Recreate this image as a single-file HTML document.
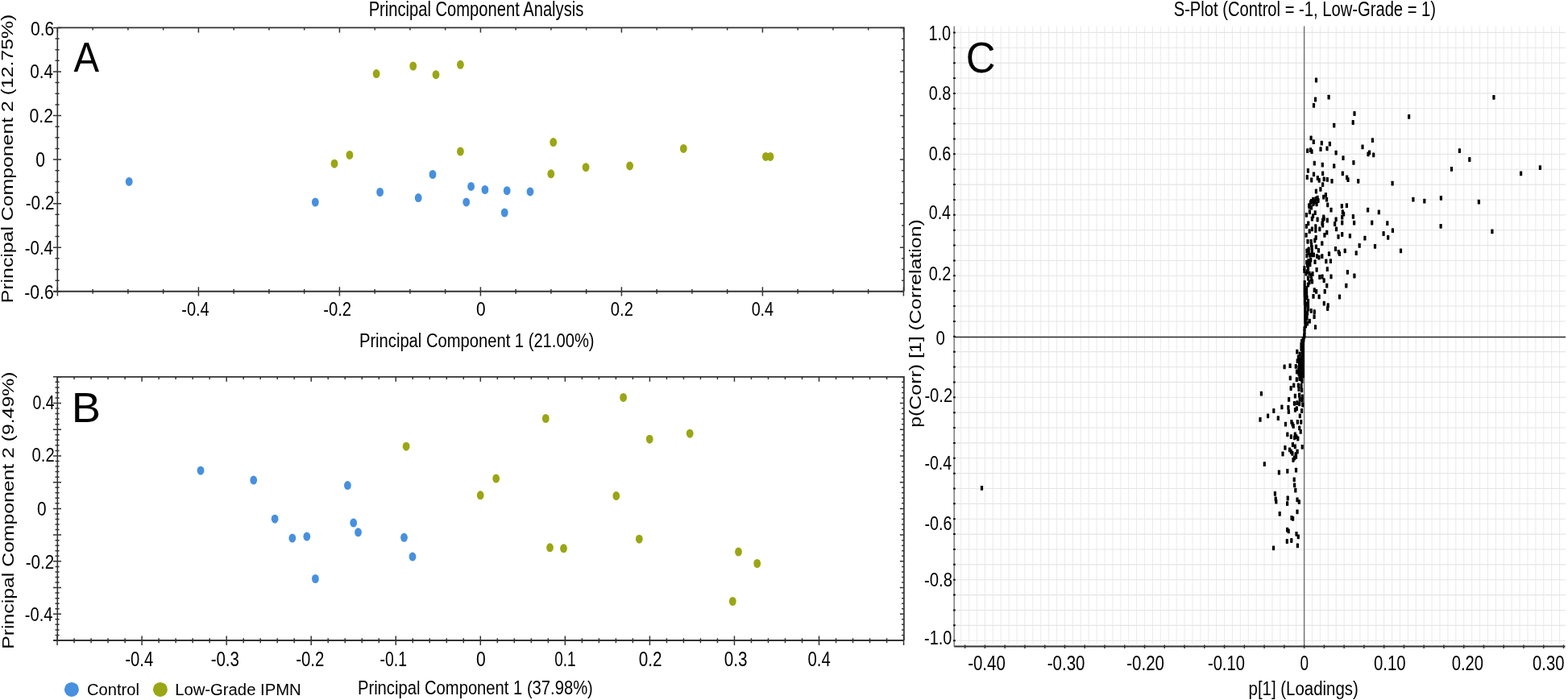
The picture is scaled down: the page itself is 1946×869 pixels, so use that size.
<!DOCTYPE html>
<html><head><meta charset="utf-8"><title>PCA and S-Plot</title>
<style>html,body{margin:0;padding:0;background:#fff;}body{width:1946px;height:869px;overflow:hidden;}svg{display:block;}text{font-family:"Liberation Sans",Arial,sans-serif;}</style>
</head><body>
<svg width="1946" height="869" viewBox="0 0 1946 869" font-family="Liberation Sans, Arial, sans-serif">
<path d="M71.3 34.4H1121.9V361.8" stroke="#333" stroke-width="1.7" fill="none"/>
<path d="M71.3 34.4V361.8" stroke="#333" stroke-width="1.6" fill="none"/>
<path d="M66.3 361.8H1121.9" stroke="#333" stroke-width="2" fill="none"/>
<path d="M66.0 361.78H76.0 M1116.9 361.78H1121.9 M68.5 348.14H73.6 M1119.1 348.14H1121.9 M68.5 334.50H73.6 M1119.1 334.50H1121.9 M68.5 320.86H73.6 M1119.1 320.86H1121.9 M66.0 307.22H76.0 M1116.9 307.22H1121.9 M68.5 293.58H73.6 M1119.1 293.58H1121.9 M68.5 279.94H73.6 M1119.1 279.94H1121.9 M68.5 266.30H73.6 M1119.1 266.30H1121.9 M66.0 252.66H76.0 M1116.9 252.66H1121.9 M68.5 239.02H73.6 M1119.1 239.02H1121.9 M68.5 225.38H73.6 M1119.1 225.38H1121.9 M68.5 211.74H73.6 M1119.1 211.74H1121.9 M66.0 198.10H76.0 M1116.9 198.10H1121.9 M68.5 184.46H73.6 M1119.1 184.46H1121.9 M68.5 170.82H73.6 M1119.1 170.82H1121.9 M68.5 157.18H73.6 M1119.1 157.18H1121.9 M66.0 143.54H76.0 M1116.9 143.54H1121.9 M68.5 129.90H73.6 M1119.1 129.90H1121.9 M68.5 116.26H73.6 M1119.1 116.26H1121.9 M68.5 102.62H73.6 M1119.1 102.62H1121.9 M66.0 88.98H76.0 M1116.9 88.98H1121.9 M68.5 75.34H73.6 M1119.1 75.34H1121.9 M68.5 61.70H73.6 M1119.1 61.70H1121.9 M68.5 48.06H73.6 M1119.1 48.06H1121.9 M66.0 34.42H76.0 M1116.9 34.42H1121.9 M71.40 356.3V367.6 M71.40 34.4V40.4 M115.15 359.0V364.7 M115.15 34.4V37.6 M158.90 359.0V364.7 M158.90 34.4V37.6 M202.65 359.0V364.7 M202.65 34.4V37.6 M246.40 356.3V367.6 M246.40 34.4V40.4 M290.15 359.0V364.7 M290.15 34.4V37.6 M333.90 359.0V364.7 M333.90 34.4V37.6 M377.65 359.0V364.7 M377.65 34.4V37.6 M421.40 356.3V367.6 M421.40 34.4V40.4 M465.15 359.0V364.7 M465.15 34.4V37.6 M508.90 359.0V364.7 M508.90 34.4V37.6 M552.65 359.0V364.7 M552.65 34.4V37.6 M596.40 356.3V367.6 M596.40 34.4V40.4 M640.15 359.0V364.7 M640.15 34.4V37.6 M683.90 359.0V364.7 M683.90 34.4V37.6 M727.65 359.0V364.7 M727.65 34.4V37.6 M771.40 356.3V367.6 M771.40 34.4V40.4 M815.15 359.0V364.7 M815.15 34.4V37.6 M858.90 359.0V364.7 M858.90 34.4V37.6 M902.65 359.0V364.7 M902.65 34.4V37.6 M946.40 356.3V367.6 M946.40 34.4V40.4 M990.15 359.0V364.7 M990.15 34.4V37.6 M1033.90 359.0V364.7 M1033.90 34.4V37.6 M1077.65 359.0V364.7 M1077.65 34.4V37.6 M1121.40 356.3V367.6 M1121.40 34.4V40.4" stroke="#333" stroke-width="1.5" fill="none"/>
<text x="37.98" y="43.75" font-size="24.58" textLength="29.33" lengthAdjust="spacingAndGlyphs" fill="#000">0.6</text>
<text x="37.19" y="96.97" font-size="23.45" textLength="28.71" lengthAdjust="spacingAndGlyphs" fill="#000">0.4</text>
<text x="36.47" y="151.75" font-size="24.72" textLength="29.49" lengthAdjust="spacingAndGlyphs" fill="#000">0.2</text>
<text x="44.18" y="206.65" font-size="25.00" textLength="11.73" lengthAdjust="spacingAndGlyphs" fill="#000">0</text>
<text x="31.69" y="259.56" font-size="24.44" textLength="35.75" lengthAdjust="spacingAndGlyphs" fill="#000">-0.2</text>
<text x="30.80" y="315.55" font-size="24.58" textLength="35.09" lengthAdjust="spacingAndGlyphs" fill="#000">-0.4</text>
<text x="30.17" y="370.56" font-size="24.44" textLength="36.55" lengthAdjust="spacingAndGlyphs" fill="#000">-0.6</text>
<text x="225.22" y="392.16" font-size="24.44" textLength="34.46" lengthAdjust="spacingAndGlyphs" fill="#000">-0.4</text>
<text x="401.21" y="392.16" font-size="24.44" textLength="34.91" lengthAdjust="spacingAndGlyphs" fill="#000">-0.2</text>
<text x="590.99" y="392.16" font-size="24.44" textLength="11.61" lengthAdjust="spacingAndGlyphs" fill="#000">0</text>
<text x="757.81" y="392.16" font-size="24.44" textLength="28.10" lengthAdjust="spacingAndGlyphs" fill="#000">0.2</text>
<text x="932.63" y="392.16" font-size="24.44" textLength="27.45" lengthAdjust="spacingAndGlyphs" fill="#000">0.4</text>
<text x="457.65" y="19.70" font-size="25.29" textLength="266.68" lengthAdjust="spacingAndGlyphs" fill="#000">Principal Component Analysis</text>
<text x="445.95" y="431.40" font-size="23.98" textLength="291.61" lengthAdjust="spacingAndGlyphs" fill="#000">Principal Component 1 (21.00%)</text>
<text transform="translate(16.40,376.23) rotate(-90)" x="0" y="0" font-size="20.64" textLength="358.58" lengthAdjust="spacingAndGlyphs" fill="#000">Principal Component 2 (12.75%)</text>
<text x="91.41" y="88.80" font-size="51.74" textLength="31.59" lengthAdjust="spacingAndGlyphs" fill="#000">A</text>
<ellipse cx="160.2" cy="225.4" rx="4.4" ry="5.5" fill="#4790de"/><ellipse cx="391.3" cy="251.0" rx="4.4" ry="5.5" fill="#4790de"/><ellipse cx="471.6" cy="238.5" rx="4.4" ry="5.5" fill="#4790de"/><ellipse cx="519.2" cy="245.6" rx="4.4" ry="5.5" fill="#4790de"/><ellipse cx="537.0" cy="216.5" rx="4.4" ry="5.5" fill="#4790de"/><ellipse cx="578.7" cy="250.9" rx="4.4" ry="5.5" fill="#4790de"/><ellipse cx="584.6" cy="231.4" rx="4.4" ry="5.5" fill="#4790de"/><ellipse cx="601.9" cy="235.5" rx="4.4" ry="5.5" fill="#4790de"/><ellipse cx="626.2" cy="264.0" rx="4.4" ry="5.5" fill="#4790de"/><ellipse cx="629.2" cy="236.7" rx="4.4" ry="5.5" fill="#4790de"/><ellipse cx="658.0" cy="237.9" rx="4.4" ry="5.5" fill="#4790de"/>
<ellipse cx="415.0" cy="203.2" rx="4.4" ry="5.5" fill="#9aa614"/><ellipse cx="433.9" cy="192.4" rx="4.4" ry="5.5" fill="#9aa614"/><ellipse cx="467.1" cy="91.6" rx="4.4" ry="5.5" fill="#9aa614"/><ellipse cx="512.7" cy="82.0" rx="4.4" ry="5.5" fill="#9aa614"/><ellipse cx="541.0" cy="92.7" rx="4.4" ry="5.5" fill="#9aa614"/><ellipse cx="571.4" cy="80.3" rx="4.4" ry="5.5" fill="#9aa614"/><ellipse cx="571.4" cy="188.1" rx="4.4" ry="5.5" fill="#9aa614"/><ellipse cx="683.8" cy="215.8" rx="4.4" ry="5.5" fill="#9aa614"/><ellipse cx="686.7" cy="176.6" rx="4.4" ry="5.5" fill="#9aa614"/><ellipse cx="727.1" cy="207.7" rx="4.4" ry="5.5" fill="#9aa614"/><ellipse cx="781.6" cy="205.9" rx="4.4" ry="5.5" fill="#9aa614"/><ellipse cx="848.3" cy="184.4" rx="4.4" ry="5.5" fill="#9aa614"/><ellipse cx="950.4" cy="194.4" rx="4.4" ry="5.5" fill="#9aa614"/><ellipse cx="956.0" cy="194.4" rx="4.4" ry="5.5" fill="#9aa614"/>
<path d="M71.3 467.8H1121.9V795.0" stroke="#333" stroke-width="1.7" fill="none"/>
<path d="M71.3 467.8V795.0" stroke="#333" stroke-width="1.6" fill="none"/>
<path d="M66.3 795.0H1121.9" stroke="#333" stroke-width="2" fill="none"/>
<path d="M66.0 795.00H76.0 M1116.9 795.00H1121.9 M68.5 788.46H73.6 M1119.1 788.46H1121.9 M68.5 781.91H73.6 M1119.1 781.91H1121.9 M68.5 775.37H73.6 M1119.1 775.37H1121.9 M68.5 768.82H73.6 M1119.1 768.82H1121.9 M66.0 762.28H76.0 M1116.9 762.28H1121.9 M68.5 755.74H73.6 M1119.1 755.74H1121.9 M68.5 749.19H73.6 M1119.1 749.19H1121.9 M68.5 742.65H73.6 M1119.1 742.65H1121.9 M68.5 736.10H73.6 M1119.1 736.10H1121.9 M66.0 729.56H76.0 M1116.9 729.56H1121.9 M68.5 723.02H73.6 M1119.1 723.02H1121.9 M68.5 716.47H73.6 M1119.1 716.47H1121.9 M68.5 709.93H73.6 M1119.1 709.93H1121.9 M68.5 703.38H73.6 M1119.1 703.38H1121.9 M66.0 696.84H76.0 M1116.9 696.84H1121.9 M68.5 690.30H73.6 M1119.1 690.30H1121.9 M68.5 683.75H73.6 M1119.1 683.75H1121.9 M68.5 677.21H73.6 M1119.1 677.21H1121.9 M68.5 670.66H73.6 M1119.1 670.66H1121.9 M66.0 664.12H76.0 M1116.9 664.12H1121.9 M68.5 657.58H73.6 M1119.1 657.58H1121.9 M68.5 651.03H73.6 M1119.1 651.03H1121.9 M68.5 644.49H73.6 M1119.1 644.49H1121.9 M68.5 637.94H73.6 M1119.1 637.94H1121.9 M66.0 631.40H76.0 M1116.9 631.40H1121.9 M68.5 624.86H73.6 M1119.1 624.86H1121.9 M68.5 618.31H73.6 M1119.1 618.31H1121.9 M68.5 611.77H73.6 M1119.1 611.77H1121.9 M68.5 605.22H73.6 M1119.1 605.22H1121.9 M66.0 598.68H76.0 M1116.9 598.68H1121.9 M68.5 592.14H73.6 M1119.1 592.14H1121.9 M68.5 585.59H73.6 M1119.1 585.59H1121.9 M68.5 579.05H73.6 M1119.1 579.05H1121.9 M68.5 572.50H73.6 M1119.1 572.50H1121.9 M66.0 565.96H76.0 M1116.9 565.96H1121.9 M68.5 559.42H73.6 M1119.1 559.42H1121.9 M68.5 552.87H73.6 M1119.1 552.87H1121.9 M68.5 546.33H73.6 M1119.1 546.33H1121.9 M68.5 539.78H73.6 M1119.1 539.78H1121.9 M66.0 533.24H76.0 M1116.9 533.24H1121.9 M68.5 526.70H73.6 M1119.1 526.70H1121.9 M68.5 520.15H73.6 M1119.1 520.15H1121.9 M68.5 513.61H73.6 M1119.1 513.61H1121.9 M68.5 507.06H73.6 M1119.1 507.06H1121.9 M66.0 500.52H76.0 M1116.9 500.52H1121.9 M68.5 493.98H73.6 M1119.1 493.98H1121.9 M68.5 487.43H73.6 M1119.1 487.43H1121.9 M68.5 480.89H73.6 M1119.1 480.89H1121.9 M68.5 474.34H73.6 M1119.1 474.34H1121.9 M66.0 467.80H76.0 M1116.9 467.80H1121.9 M71.05 789.4V800.9 M71.05 467.8V473.8 M92.06 792.3V798.2 M92.06 467.8V471.0 M113.07 792.3V798.2 M113.07 467.8V471.0 M134.08 792.3V798.2 M134.08 467.8V471.0 M155.09 792.3V798.2 M155.09 467.8V471.0 M176.10 789.4V800.9 M176.10 467.8V473.8 M197.11 792.3V798.2 M197.11 467.8V471.0 M218.12 792.3V798.2 M218.12 467.8V471.0 M239.13 792.3V798.2 M239.13 467.8V471.0 M260.14 792.3V798.2 M260.14 467.8V471.0 M281.15 789.4V800.9 M281.15 467.8V473.8 M302.16 792.3V798.2 M302.16 467.8V471.0 M323.17 792.3V798.2 M323.17 467.8V471.0 M344.18 792.3V798.2 M344.18 467.8V471.0 M365.19 792.3V798.2 M365.19 467.8V471.0 M386.20 789.4V800.9 M386.20 467.8V473.8 M407.21 792.3V798.2 M407.21 467.8V471.0 M428.22 792.3V798.2 M428.22 467.8V471.0 M449.23 792.3V798.2 M449.23 467.8V471.0 M470.24 792.3V798.2 M470.24 467.8V471.0 M491.25 789.4V800.9 M491.25 467.8V473.8 M512.26 792.3V798.2 M512.26 467.8V471.0 M533.27 792.3V798.2 M533.27 467.8V471.0 M554.28 792.3V798.2 M554.28 467.8V471.0 M575.29 792.3V798.2 M575.29 467.8V471.0 M596.30 789.4V800.9 M596.30 467.8V473.8 M617.31 792.3V798.2 M617.31 467.8V471.0 M638.32 792.3V798.2 M638.32 467.8V471.0 M659.33 792.3V798.2 M659.33 467.8V471.0 M680.34 792.3V798.2 M680.34 467.8V471.0 M701.35 789.4V800.9 M701.35 467.8V473.8 M722.36 792.3V798.2 M722.36 467.8V471.0 M743.37 792.3V798.2 M743.37 467.8V471.0 M764.38 792.3V798.2 M764.38 467.8V471.0 M785.39 792.3V798.2 M785.39 467.8V471.0 M806.40 789.4V800.9 M806.40 467.8V473.8 M827.41 792.3V798.2 M827.41 467.8V471.0 M848.42 792.3V798.2 M848.42 467.8V471.0 M869.43 792.3V798.2 M869.43 467.8V471.0 M890.44 792.3V798.2 M890.44 467.8V471.0 M911.45 789.4V800.9 M911.45 467.8V473.8 M932.46 792.3V798.2 M932.46 467.8V471.0 M953.47 792.3V798.2 M953.47 467.8V471.0 M974.48 792.3V798.2 M974.48 467.8V471.0 M995.49 792.3V798.2 M995.49 467.8V471.0 M1016.50 789.4V800.9 M1016.50 467.8V473.8 M1037.51 792.3V798.2 M1037.51 467.8V471.0 M1058.52 792.3V798.2 M1058.52 467.8V471.0 M1079.53 792.3V798.2 M1079.53 467.8V471.0 M1100.54 792.3V798.2 M1100.54 467.8V471.0 M1121.55 789.4V800.9 M1121.55 467.8V473.8" stroke="#333" stroke-width="1.5" fill="none"/>
<text x="40.54" y="508.36" font-size="24.15" textLength="27.13" lengthAdjust="spacingAndGlyphs" fill="#000">0.4</text>
<text x="39.51" y="572.86" font-size="24.15" textLength="28.21" lengthAdjust="spacingAndGlyphs" fill="#000">0.2</text>
<text x="46.09" y="639.56" font-size="24.29" textLength="11.61" lengthAdjust="spacingAndGlyphs" fill="#000">0</text>
<text x="31.69" y="706.26" font-size="24.29" textLength="35.54" lengthAdjust="spacingAndGlyphs" fill="#000">-0.2</text>
<text x="30.82" y="770.66" font-size="24.29" textLength="34.57" lengthAdjust="spacingAndGlyphs" fill="#000">-0.4</text>
<text x="155.31" y="826.75" font-size="24.86" textLength="34.88" lengthAdjust="spacingAndGlyphs" fill="#000">-0.4</text>
<text x="261.70" y="826.75" font-size="24.86" textLength="35.18" lengthAdjust="spacingAndGlyphs" fill="#000">-0.3</text>
<text x="367.20" y="826.75" font-size="24.86" textLength="35.12" lengthAdjust="spacingAndGlyphs" fill="#000">-0.2</text>
<text x="471.55" y="826.75" font-size="24.86" textLength="33.39" lengthAdjust="spacingAndGlyphs" fill="#000">-0.1</text>
<text x="590.98" y="826.75" font-size="24.86" textLength="11.73" lengthAdjust="spacingAndGlyphs" fill="#000">0</text>
<text x="688.26" y="826.75" font-size="24.86" textLength="26.25" lengthAdjust="spacingAndGlyphs" fill="#000">0.1</text>
<text x="792.79" y="826.75" font-size="24.86" textLength="28.74" lengthAdjust="spacingAndGlyphs" fill="#000">0.2</text>
<text x="898.69" y="826.75" font-size="24.86" textLength="28.70" lengthAdjust="spacingAndGlyphs" fill="#000">0.3</text>
<text x="1002.51" y="826.75" font-size="24.86" textLength="28.18" lengthAdjust="spacingAndGlyphs" fill="#000">0.4</text>
<text x="443.94" y="862.10" font-size="24.71" textLength="291.91" lengthAdjust="spacingAndGlyphs" fill="#000">Principal Component 1 (37.98%)</text>
<text transform="translate(16.60,805.73) rotate(-90)" x="0" y="0" font-size="21.08" textLength="344.17" lengthAdjust="spacingAndGlyphs" fill="#000">Principal Component 2 (9.49%)</text>
<text x="88.74" y="524.20" font-size="52.18" textLength="36.29" lengthAdjust="spacingAndGlyphs" fill="#000">B</text>
<ellipse cx="249.0" cy="584.2" rx="4.4" ry="5.5" fill="#4790de"/><ellipse cx="314.7" cy="596.1" rx="4.4" ry="5.5" fill="#4790de"/><ellipse cx="431.4" cy="602.6" rx="4.4" ry="5.5" fill="#4790de"/><ellipse cx="341.1" cy="644.2" rx="4.4" ry="5.5" fill="#4790de"/><ellipse cx="438.7" cy="649.1" rx="4.4" ry="5.5" fill="#4790de"/><ellipse cx="444.5" cy="660.8" rx="4.4" ry="5.5" fill="#4790de"/><ellipse cx="362.8" cy="668.1" rx="4.4" ry="5.5" fill="#4790de"/><ellipse cx="380.8" cy="666.1" rx="4.4" ry="5.5" fill="#4790de"/><ellipse cx="501.5" cy="667.3" rx="4.4" ry="5.5" fill="#4790de"/><ellipse cx="512.0" cy="691.1" rx="4.4" ry="5.5" fill="#4790de"/><ellipse cx="391.4" cy="718.5" rx="4.4" ry="5.5" fill="#4790de"/>
<ellipse cx="773.6" cy="493.4" rx="4.4" ry="5.5" fill="#9aa614"/><ellipse cx="677.3" cy="519.5" rx="4.4" ry="5.5" fill="#9aa614"/><ellipse cx="806.2" cy="545.2" rx="4.4" ry="5.5" fill="#9aa614"/><ellipse cx="856.2" cy="538.2" rx="4.4" ry="5.5" fill="#9aa614"/><ellipse cx="504.1" cy="554.2" rx="4.4" ry="5.5" fill="#9aa614"/><ellipse cx="615.7" cy="594.1" rx="4.4" ry="5.5" fill="#9aa614"/><ellipse cx="596.2" cy="614.8" rx="4.4" ry="5.5" fill="#9aa614"/><ellipse cx="764.8" cy="615.6" rx="4.4" ry="5.5" fill="#9aa614"/><ellipse cx="793.3" cy="669.2" rx="4.4" ry="5.5" fill="#9aa614"/><ellipse cx="682.5" cy="679.8" rx="4.4" ry="5.5" fill="#9aa614"/><ellipse cx="699.5" cy="680.8" rx="4.4" ry="5.5" fill="#9aa614"/><ellipse cx="916.5" cy="685.1" rx="4.4" ry="5.5" fill="#9aa614"/><ellipse cx="939.7" cy="699.5" rx="4.4" ry="5.5" fill="#9aa614"/><ellipse cx="909.3" cy="746.5" rx="4.4" ry="5.5" fill="#9aa614"/>
<circle cx="88.9" cy="855.9" r="9" fill="#4790de"/><circle cx="198.9" cy="855.9" r="9" fill="#9aa614"/>
<text x="108.09" y="863.00" font-size="19.77" textLength="64.85" lengthAdjust="spacingAndGlyphs" fill="#000">Control</text>
<text x="217.14" y="863.00" font-size="20.35" textLength="156.62" lengthAdjust="spacingAndGlyphs" fill="#000">Low-Grade IPMN</text>
<path d="M1192.68 32.4V800 M1202.59 32.4V800 M1212.49 32.4V800 M1222.40 32.4V800 M1232.30 32.4V800 M1242.21 32.4V800 M1252.11 32.4V800 M1262.02 32.4V800 M1271.92 32.4V800 M1281.83 32.4V800 M1291.73 32.4V800 M1301.64 32.4V800 M1311.54 32.4V800 M1321.45 32.4V800 M1331.36 32.4V800 M1341.26 32.4V800 M1351.16 32.4V800 M1361.07 32.4V800 M1370.97 32.4V800 M1380.88 32.4V800 M1390.78 32.4V800 M1400.69 32.4V800 M1410.59 32.4V800 M1420.50 32.4V800 M1430.40 32.4V800 M1440.31 32.4V800 M1450.21 32.4V800 M1460.12 32.4V800 M1470.02 32.4V800 M1479.93 32.4V800 M1489.83 32.4V800 M1499.74 32.4V800 M1509.64 32.4V800 M1519.55 32.4V800 M1529.45 32.4V800 M1539.36 32.4V800 M1549.26 32.4V800 M1559.17 32.4V800 M1569.07 32.4V800 M1578.98 32.4V800 M1588.88 32.4V800 M1598.79 32.4V800 M1608.69 32.4V800 M1618.60 32.4V800 M1628.50 32.4V800 M1638.41 32.4V800 M1648.31 32.4V800 M1658.22 32.4V800 M1668.12 32.4V800 M1678.03 32.4V800 M1687.93 32.4V800 M1697.84 32.4V800 M1707.74 32.4V800 M1717.65 32.4V800 M1727.55 32.4V800 M1737.46 32.4V800 M1747.37 32.4V800 M1757.27 32.4V800 M1767.17 32.4V800 M1777.08 32.4V800 M1786.98 32.4V800 M1796.89 32.4V800 M1806.79 32.4V800 M1816.70 32.4V800 M1826.61 32.4V800 M1836.51 32.4V800 M1846.41 32.4V800 M1856.32 32.4V800 M1866.22 32.4V800 M1876.13 32.4V800 M1886.03 32.4V800 M1895.94 32.4V800 M1905.84 32.4V800 M1915.75 32.4V800 M1925.65 32.4V800 M1935.56 32.4V800" stroke="#ececec" stroke-width="1.1" fill="none"/>
<path d="M1184.2 795.20H1943.0 M1184.2 776.33H1943.0 M1184.2 757.46H1943.0 M1184.2 738.59H1943.0 M1184.2 719.72H1943.0 M1184.2 700.85H1943.0 M1184.2 681.98H1943.0 M1184.2 663.11H1943.0 M1184.2 644.24H1943.0 M1184.2 625.37H1943.0 M1184.2 606.50H1943.0 M1184.2 587.63H1943.0 M1184.2 568.76H1943.0 M1184.2 549.89H1943.0 M1184.2 531.02H1943.0 M1184.2 512.15H1943.0 M1184.2 493.28H1943.0 M1184.2 474.41H1943.0 M1184.2 455.54H1943.0 M1184.2 436.67H1943.0 M1184.2 417.80H1943.0 M1184.2 398.93H1943.0 M1184.2 380.06H1943.0 M1184.2 361.19H1943.0 M1184.2 342.32H1943.0 M1184.2 323.45H1943.0 M1184.2 304.58H1943.0 M1184.2 285.71H1943.0 M1184.2 266.84H1943.0 M1184.2 247.97H1943.0 M1184.2 229.10H1943.0 M1184.2 210.23H1943.0 M1184.2 191.36H1943.0 M1184.2 172.49H1943.0 M1184.2 153.62H1943.0 M1184.2 134.75H1943.0 M1184.2 115.88H1943.0 M1184.2 97.01H1943.0 M1184.2 78.14H1943.0 M1184.2 59.27H1943.0 M1184.2 40.40H1943.0" stroke="#e5e5e5" stroke-width="1.1" fill="none"/>
<path d="M1618.60 32.4V802.4" stroke="#6e6e6e" stroke-width="1.4" fill="none"/>
<path d="M1184.2 418.5H1943.0" stroke="#2e2e2e" stroke-width="1.5" fill="none"/>
<path d="M1184.2 32.4V802.4" stroke="#7a7a7a" stroke-width="1.5" fill="none"/>
<path d="M1183.0 795.20H1185.8 M1183.0 776.33H1185.8 M1183.0 757.46H1185.8 M1183.0 738.59H1185.8 M1183.0 719.72H1185.8 M1183.0 700.85H1185.8 M1183.0 681.98H1185.8 M1183.0 663.11H1185.8 M1183.0 644.24H1185.8 M1183.0 625.37H1185.8 M1183.0 606.50H1185.8 M1183.0 587.63H1185.8 M1183.0 568.76H1185.8 M1183.0 549.89H1185.8 M1183.0 531.02H1185.8 M1183.0 512.15H1185.8 M1183.0 493.28H1185.8 M1183.0 474.41H1185.8 M1183.0 455.54H1185.8 M1183.0 436.67H1185.8 M1183.0 417.80H1185.8 M1183.0 398.93H1185.8 M1183.0 380.06H1185.8 M1183.0 361.19H1185.8 M1183.0 342.32H1185.8 M1183.0 323.45H1185.8 M1183.0 304.58H1185.8 M1183.0 285.71H1185.8 M1183.0 266.84H1185.8 M1183.0 247.97H1185.8 M1183.0 229.10H1185.8 M1183.0 210.23H1185.8 M1183.0 191.36H1185.8 M1183.0 172.49H1185.8 M1183.0 153.62H1185.8 M1183.0 134.75H1185.8 M1183.0 115.88H1185.8 M1183.0 97.01H1185.8 M1183.0 78.14H1185.8 M1183.0 59.27H1185.8 M1183.0 40.40H1185.8" stroke="#111" stroke-width="2" fill="none"/>
<path d="M1184.2 802.4H1942.5" stroke="#333" stroke-width="2" fill="none"/>
<path d="M1197.64 800.6V805.0 M1222.40 800.6V805.0 M1247.16 800.6V805.0 M1271.92 800.6V805.0 M1296.69 800.6V805.0 M1321.45 800.6V805.0 M1346.21 800.6V805.0 M1370.97 800.6V805.0 M1395.74 800.6V805.0 M1420.50 800.6V805.0 M1445.26 800.6V805.0 M1470.02 800.6V805.0 M1494.79 800.6V805.0 M1519.55 800.6V805.0 M1544.31 800.6V805.0 M1569.07 800.6V805.0 M1593.84 800.6V805.0 M1618.60 800.6V805.0 M1643.36 800.6V805.0 M1668.12 800.6V805.0 M1692.89 800.6V805.0 M1717.65 800.6V805.0 M1742.41 800.6V805.0 M1767.17 800.6V805.0 M1791.94 800.6V805.0 M1816.70 800.6V805.0 M1841.46 800.6V805.0 M1866.22 800.6V805.0 M1890.99 800.6V805.0 M1915.75 800.6V805.0 M1940.51 800.6V805.0" stroke="#333" stroke-width="1.5" fill="none"/>
<text x="1152.59" y="49.65" font-size="24.86" textLength="27.56" lengthAdjust="spacingAndGlyphs" fill="#000">1.0</text>
<text x="1152.73" y="123.56" font-size="24.01" textLength="27.53" lengthAdjust="spacingAndGlyphs" fill="#000">0.8</text>
<text x="1152.73" y="199.36" font-size="24.15" textLength="27.53" lengthAdjust="spacingAndGlyphs" fill="#000">0.6</text>
<text x="1152.74" y="272.15" font-size="24.58" textLength="27.23" lengthAdjust="spacingAndGlyphs" fill="#000">0.4</text>
<text x="1152.72" y="348.35" font-size="24.72" textLength="27.67" lengthAdjust="spacingAndGlyphs" fill="#000">0.2</text>
<text x="1161.60" y="427.95" font-size="24.58" textLength="11.38" lengthAdjust="spacingAndGlyphs" fill="#000">0</text>
<text x="1147.41" y="499.35" font-size="24.72" textLength="34.70" lengthAdjust="spacingAndGlyphs" fill="#000">-0.2</text>
<text x="1147.44" y="583.15" font-size="24.58" textLength="33.63" lengthAdjust="spacingAndGlyphs" fill="#000">-0.4</text>
<text x="1147.43" y="658.05" font-size="24.72" textLength="33.92" lengthAdjust="spacingAndGlyphs" fill="#000">-0.6</text>
<text x="1147.01" y="728.25" font-size="24.58" textLength="34.97" lengthAdjust="spacingAndGlyphs" fill="#000">-0.8</text>
<text x="1147.03" y="800.05" font-size="24.72" textLength="34.23" lengthAdjust="spacingAndGlyphs" fill="#000">-1.0</text>
<text x="1201.20" y="832.15" font-size="25.14" textLength="46.58" lengthAdjust="spacingAndGlyphs" fill="#000">-0.40</text>
<text x="1299.80" y="832.15" font-size="25.14" textLength="46.69" lengthAdjust="spacingAndGlyphs" fill="#000">-0.30</text>
<text x="1398.30" y="832.15" font-size="25.14" textLength="46.69" lengthAdjust="spacingAndGlyphs" fill="#000">-0.20</text>
<text x="1498.91" y="832.15" font-size="25.14" textLength="46.06" lengthAdjust="spacingAndGlyphs" fill="#000">-0.10</text>
<text x="1613.46" y="832.15" font-size="25.14" textLength="10.57" lengthAdjust="spacingAndGlyphs" fill="#000">0</text>
<text x="1705.00" y="832.15" font-size="25.14" textLength="39.68" lengthAdjust="spacingAndGlyphs" fill="#000">0.10</text>
<text x="1801.71" y="832.15" font-size="25.14" textLength="39.36" lengthAdjust="spacingAndGlyphs" fill="#000">0.20</text>
<text x="1902.11" y="832.15" font-size="25.14" textLength="39.36" lengthAdjust="spacingAndGlyphs" fill="#000">0.30</text>
<text x="1456.69" y="19.75" font-size="25.58" textLength="325.36" lengthAdjust="spacingAndGlyphs" fill="#000">S-Plot (Control = -1, Low-Grade = 1)</text>
<text x="1549.59" y="862.80" font-size="23.98" textLength="136.17" lengthAdjust="spacingAndGlyphs" fill="#000">p[1] (Loadings)</text>
<text transform="translate(1142.90,530.79) rotate(-90)" x="0" y="0" font-size="20.93" textLength="258.64" lengthAdjust="spacingAndGlyphs" fill="#000">p(Corr) [1] (Correlation)</text>
<text x="1198.86" y="89.60" font-size="53.72" textLength="36.73" lengthAdjust="spacingAndGlyphs" fill="#000">C</text>
<g fill="#000"><rect x="1852.3" y="117.9" width="3.2" height="5.8" rx="0.6"/><rect x="1747.0" y="141.9" width="3.2" height="5.8" rx="0.6"/><rect x="1809.8" y="184.2" width="3.2" height="5.8" rx="0.6"/><rect x="1822.2" y="195.1" width="3.2" height="5.8" rx="0.6"/><rect x="1799.9" y="207.0" width="3.2" height="5.8" rx="0.6"/><rect x="1886.0" y="212.5" width="3.2" height="5.8" rx="0.6"/><rect x="1909.8" y="205.2" width="3.2" height="5.8" rx="0.6"/><rect x="1752.3" y="244.7" width="3.2" height="5.8" rx="0.6"/><rect x="1766.2" y="246.7" width="3.2" height="5.8" rx="0.6"/><rect x="1786.8" y="242.9" width="3.2" height="5.8" rx="0.6"/><rect x="1833.8" y="247.7" width="3.2" height="5.8" rx="0.6"/><rect x="1786.5" y="277.9" width="3.2" height="5.8" rx="0.6"/><rect x="1850.3" y="284.4" width="3.2" height="5.8" rx="0.6"/><rect x="1631.9" y="96.6" width="3.2" height="5.8" rx="0.6"/><rect x="1630.9" y="120.6" width="3.2" height="5.8" rx="0.6"/><rect x="1647.5" y="117.7" width="3.2" height="5.8" rx="0.6"/><rect x="1628.9" y="128.0" width="3.2" height="5.8" rx="0.6"/><rect x="1679.4" y="138.1" width="3.2" height="5.8" rx="0.6"/><rect x="1677.6" y="149.1" width="3.2" height="5.8" rx="0.6"/><rect x="1654.1" y="152.7" width="3.2" height="5.8" rx="0.6"/><rect x="1625.5" y="168.4" width="3.2" height="5.8" rx="0.6"/><rect x="1628.7" y="173.2" width="3.2" height="5.8" rx="0.6"/><rect x="1638.7" y="174.8" width="3.2" height="5.8" rx="0.6"/><rect x="1648.8" y="175.7" width="3.2" height="5.8" rx="0.6"/><rect x="1701.8" y="171.3" width="3.2" height="5.8" rx="0.6"/><rect x="1689.4" y="179.5" width="3.2" height="5.8" rx="0.6"/><rect x="1621.1" y="184.2" width="3.2" height="5.8" rx="0.6"/><rect x="1624.9" y="183.3" width="3.2" height="5.8" rx="0.6"/><rect x="1626.4" y="185.2" width="3.2" height="5.8" rx="0.6"/><rect x="1637.4" y="182.3" width="3.2" height="5.8" rx="0.6"/><rect x="1645.4" y="181.4" width="3.2" height="5.8" rx="0.6"/><rect x="1656.5" y="186.8" width="3.2" height="5.8" rx="0.6"/><rect x="1665.4" y="193.2" width="3.2" height="5.8" rx="0.6"/><rect x="1696.4" y="188.4" width="3.2" height="5.8" rx="0.6"/><rect x="1698.0" y="186.5" width="3.2" height="5.8" rx="0.6"/><rect x="1703.1" y="189.4" width="3.2" height="5.8" rx="0.6"/><rect x="1629.7" y="199.8" width="3.2" height="5.8" rx="0.6"/><rect x="1639.7" y="201.7" width="3.2" height="5.8" rx="0.6"/><rect x="1654.1" y="203.3" width="3.2" height="5.8" rx="0.6"/><rect x="1678.3" y="198.9" width="3.2" height="5.8" rx="0.6"/><rect x="1621.8" y="208.9" width="3.2" height="5.8" rx="0.6"/><rect x="1628.9" y="213.4" width="3.2" height="5.8" rx="0.6"/><rect x="1640.0" y="212.4" width="3.2" height="5.8" rx="0.6"/><rect x="1664.7" y="212.4" width="3.2" height="5.8" rx="0.6"/><rect x="1620.7" y="217.1" width="3.2" height="5.8" rx="0.6"/><rect x="1626.1" y="220.6" width="3.2" height="5.8" rx="0.6"/><rect x="1633.7" y="218.1" width="3.2" height="5.8" rx="0.6"/><rect x="1635.6" y="221.0" width="3.2" height="5.8" rx="0.6"/><rect x="1641.6" y="219.4" width="3.2" height="5.8" rx="0.6"/><rect x="1645.7" y="220.0" width="3.2" height="5.8" rx="0.6"/><rect x="1651.4" y="221.9" width="3.2" height="5.8" rx="0.6"/><rect x="1670.0" y="217.5" width="3.2" height="5.8" rx="0.6"/><rect x="1671.4" y="220.3" width="3.2" height="5.8" rx="0.6"/><rect x="1684.1" y="221.9" width="3.2" height="5.8" rx="0.6"/><rect x="1726.5" y="224.7" width="3.2" height="5.8" rx="0.6"/><rect x="1640.0" y="226.3" width="3.2" height="5.8" rx="0.6"/><rect x="1637.3" y="232.0" width="3.2" height="5.8" rx="0.6"/><rect x="1631.8" y="234.6" width="3.2" height="5.8" rx="0.6"/><rect x="1643.8" y="239.0" width="3.2" height="5.8" rx="0.6"/><rect x="1641.1" y="241.8" width="3.2" height="5.8" rx="0.6"/><rect x="1644.9" y="244.7" width="3.2" height="5.8" rx="0.6"/><rect x="1633.5" y="242.8" width="3.2" height="5.8" rx="0.6"/><rect x="1628.0" y="244.7" width="3.2" height="5.8" rx="0.6"/><rect x="1631.2" y="246.6" width="3.2" height="5.8" rx="0.6"/><rect x="1632.5" y="250.4" width="3.2" height="5.8" rx="0.6"/><rect x="1624.9" y="248.5" width="3.2" height="5.8" rx="0.6"/><rect x="1623.0" y="252.3" width="3.2" height="5.8" rx="0.6"/><rect x="1625.9" y="254.8" width="3.2" height="5.8" rx="0.6"/><rect x="1646.1" y="251.4" width="3.2" height="5.8" rx="0.6"/><rect x="1663.7" y="252.9" width="3.2" height="5.8" rx="0.6"/><rect x="1669.8" y="252.3" width="3.2" height="5.8" rx="0.6"/><rect x="1650.4" y="257.7" width="3.2" height="5.8" rx="0.6"/><rect x="1696.0" y="257.7" width="3.2" height="5.8" rx="0.6"/><rect x="1709.7" y="260.5" width="3.2" height="5.8" rx="0.6"/><rect x="1623.8" y="260.3" width="3.2" height="5.8" rx="0.6"/><rect x="1619.8" y="263.9" width="3.2" height="5.8" rx="0.6"/><rect x="1630.6" y="261.2" width="3.2" height="5.8" rx="0.6"/><rect x="1664.7" y="260.3" width="3.2" height="5.8" rx="0.6"/><rect x="1666.0" y="262.8" width="3.2" height="5.8" rx="0.6"/><rect x="1628.0" y="265.3" width="3.2" height="5.8" rx="0.6"/><rect x="1626.8" y="268.7" width="3.2" height="5.8" rx="0.6"/><rect x="1633.5" y="269.6" width="3.2" height="5.8" rx="0.6"/><rect x="1641.1" y="266.6" width="3.2" height="5.8" rx="0.6"/><rect x="1640.0" y="270.6" width="3.2" height="5.8" rx="0.6"/><rect x="1639.4" y="274.4" width="3.2" height="5.8" rx="0.6"/><rect x="1645.7" y="270.6" width="3.2" height="5.8" rx="0.6"/><rect x="1656.5" y="269.4" width="3.2" height="5.8" rx="0.6"/><rect x="1664.1" y="266.8" width="3.2" height="5.8" rx="0.6"/><rect x="1677.8" y="266.0" width="3.2" height="5.8" rx="0.6"/><rect x="1655.0" y="275.1" width="3.2" height="5.8" rx="0.6"/><rect x="1664.1" y="273.6" width="3.2" height="5.8" rx="0.6"/><rect x="1679.0" y="273.8" width="3.2" height="5.8" rx="0.6"/><rect x="1701.1" y="273.6" width="3.2" height="5.8" rx="0.6"/><rect x="1720.2" y="274.2" width="3.2" height="5.8" rx="0.6"/><rect x="1622.1" y="274.4" width="3.2" height="5.8" rx="0.6"/><rect x="1619.8" y="278.0" width="3.2" height="5.8" rx="0.6"/><rect x="1631.2" y="278.2" width="3.2" height="5.8" rx="0.6"/><rect x="1626.8" y="281.4" width="3.2" height="5.8" rx="0.6"/><rect x="1623.6" y="284.3" width="3.2" height="5.8" rx="0.6"/><rect x="1631.2" y="283.3" width="3.2" height="5.8" rx="0.6"/><rect x="1636.2" y="281.4" width="3.2" height="5.8" rx="0.6"/><rect x="1640.0" y="276.7" width="3.2" height="5.8" rx="0.6"/><rect x="1656.9" y="281.4" width="3.2" height="5.8" rx="0.6"/><rect x="1726.8" y="283.3" width="3.2" height="5.8" rx="0.6"/><rect x="1645.1" y="285.8" width="3.2" height="5.8" rx="0.6"/><rect x="1642.3" y="289.0" width="3.2" height="5.8" rx="0.6"/><rect x="1619.5" y="289.0" width="3.2" height="5.8" rx="0.6"/><rect x="1664.1" y="288.1" width="3.2" height="5.8" rx="0.6"/><rect x="1659.4" y="290.9" width="3.2" height="5.8" rx="0.6"/><rect x="1673.8" y="289.9" width="3.2" height="5.8" rx="0.6"/><rect x="1715.5" y="287.1" width="3.2" height="5.8" rx="0.6"/><rect x="1721.1" y="291.9" width="3.2" height="5.8" rx="0.6"/><rect x="1692.3" y="292.8" width="3.2" height="5.8" rx="0.6"/><rect x="1631.6" y="292.1" width="3.2" height="5.8" rx="0.6"/><rect x="1685.6" y="302.0" width="3.2" height="5.8" rx="0.6"/><rect x="1704.9" y="302.9" width="3.2" height="5.8" rx="0.6"/><rect x="1655.9" y="306.1" width="3.2" height="5.8" rx="0.6"/><rect x="1659.7" y="309.9" width="3.2" height="5.8" rx="0.6"/><rect x="1660.9" y="312.2" width="3.2" height="5.8" rx="0.6"/><rect x="1667.6" y="308.4" width="3.2" height="5.8" rx="0.6"/><rect x="1681.6" y="311.2" width="3.2" height="5.8" rx="0.6"/><rect x="1736.9" y="308.4" width="3.2" height="5.8" rx="0.6"/><rect x="1647.9" y="312.2" width="3.2" height="5.8" rx="0.6"/><rect x="1644.2" y="321.5" width="3.2" height="5.8" rx="0.6"/><rect x="1649.8" y="321.3" width="3.2" height="5.8" rx="0.6"/><rect x="1645.7" y="331.2" width="3.2" height="5.8" rx="0.6"/><rect x="1670.8" y="334.9" width="3.2" height="5.8" rx="0.6"/><rect x="1679.3" y="339.6" width="3.2" height="5.8" rx="0.6"/><rect x="1650.4" y="340.5" width="3.2" height="5.8" rx="0.6"/><rect x="1641.6" y="345.3" width="3.2" height="5.8" rx="0.6"/><rect x="1645.1" y="351.7" width="3.2" height="5.8" rx="0.6"/><rect x="1669.2" y="351.7" width="3.2" height="5.8" rx="0.6"/><rect x="1642.6" y="359.0" width="3.2" height="5.8" rx="0.6"/><rect x="1660.9" y="365.6" width="3.2" height="5.8" rx="0.6"/><rect x="1641.7" y="373.8" width="3.2" height="5.8" rx="0.6"/><rect x="1646.6" y="376.3" width="3.2" height="5.8" rx="0.6"/><rect x="1646.1" y="380.1" width="3.2" height="5.8" rx="0.6"/><rect x="1617.0" y="415.1" width="3.2" height="5.8" rx="0.6"/><rect x="1616.2" y="418.7" width="3.2" height="5.8" rx="0.6"/><rect x="1615.2" y="422.3" width="3.2" height="5.8" rx="0.6"/><rect x="1614.6" y="427.1" width="3.2" height="5.8" rx="0.6"/><rect x="1615.2" y="430.8" width="3.2" height="5.8" rx="0.6"/><rect x="1614.0" y="421.1" width="3.2" height="5.8" rx="0.6"/><rect x="1608.2" y="433.8" width="3.2" height="5.8" rx="0.6"/><rect x="1611.6" y="436.8" width="3.2" height="5.8" rx="0.6"/><rect x="1614.6" y="435.0" width="3.2" height="5.8" rx="0.6"/><rect x="1609.8" y="440.4" width="3.2" height="5.8" rx="0.6"/><rect x="1613.4" y="441.0" width="3.2" height="5.8" rx="0.6"/><rect x="1615.2" y="442.9" width="3.2" height="5.8" rx="0.6"/><rect x="1608.6" y="445.3" width="3.2" height="5.8" rx="0.6"/><rect x="1612.8" y="447.1" width="3.2" height="5.8" rx="0.6"/><rect x="1615.2" y="448.9" width="3.2" height="5.8" rx="0.6"/><rect x="1599.5" y="451.3" width="3.2" height="5.8" rx="0.6"/><rect x="1592.5" y="452.5" width="3.2" height="5.8" rx="0.6"/><rect x="1606.7" y="451.9" width="3.2" height="5.8" rx="0.6"/><rect x="1610.4" y="453.7" width="3.2" height="5.8" rx="0.6"/><rect x="1613.4" y="454.9" width="3.2" height="5.8" rx="0.6"/><rect x="1615.2" y="457.4" width="3.2" height="5.8" rx="0.6"/><rect x="1607.9" y="458.6" width="3.2" height="5.8" rx="0.6"/><rect x="1610.4" y="461.0" width="3.2" height="5.8" rx="0.6"/><rect x="1613.4" y="461.6" width="3.2" height="5.8" rx="0.6"/><rect x="1615.2" y="464.0" width="3.2" height="5.8" rx="0.6"/><rect x="1611.6" y="464.6" width="3.2" height="5.8" rx="0.6"/><rect x="1599.7" y="466.4" width="3.2" height="5.8" rx="0.6"/><rect x="1607.7" y="468.2" width="3.2" height="5.8" rx="0.6"/><rect x="1613.4" y="467.6" width="3.2" height="5.8" rx="0.6"/><rect x="1604.1" y="475.5" width="3.2" height="5.8" rx="0.6"/><rect x="1609.8" y="475.5" width="3.2" height="5.8" rx="0.6"/><rect x="1613.4" y="476.1" width="3.2" height="5.8" rx="0.6"/><rect x="1600.5" y="479.1" width="3.2" height="5.8" rx="0.6"/><rect x="1610.4" y="480.3" width="3.2" height="5.8" rx="0.6"/><rect x="1614.0" y="481.5" width="3.2" height="5.8" rx="0.6"/><rect x="1563.8" y="485.8" width="3.2" height="5.8" rx="0.6"/><rect x="1605.8" y="488.8" width="3.2" height="5.8" rx="0.6"/><rect x="1611.0" y="487.6" width="3.2" height="5.8" rx="0.6"/><rect x="1614.6" y="489.4" width="3.2" height="5.8" rx="0.6"/><rect x="1598.0" y="493.0" width="3.2" height="5.8" rx="0.6"/><rect x="1611.6" y="493.0" width="3.2" height="5.8" rx="0.6"/><rect x="1614.6" y="493.6" width="3.2" height="5.8" rx="0.6"/><rect x="1604.8" y="497.9" width="3.2" height="5.8" rx="0.6"/><rect x="1608.2" y="497.3" width="3.2" height="5.8" rx="0.6"/><rect x="1611.1" y="498.4" width="3.2" height="5.8" rx="0.6"/><rect x="1615.2" y="499.6" width="3.2" height="5.8" rx="0.6"/><rect x="1589.3" y="502.5" width="3.2" height="5.8" rx="0.6"/><rect x="1597.3" y="503.0" width="3.2" height="5.8" rx="0.6"/><rect x="1597.7" y="508.2" width="3.2" height="5.8" rx="0.6"/><rect x="1579.2" y="507.1" width="3.2" height="5.8" rx="0.6"/><rect x="1605.9" y="505.9" width="3.2" height="5.8" rx="0.6"/><rect x="1607.7" y="504.2" width="3.2" height="5.8" rx="0.6"/><rect x="1614.0" y="507.1" width="3.2" height="5.8" rx="0.6"/><rect x="1572.0" y="513.4" width="3.2" height="5.8" rx="0.6"/><rect x="1562.4" y="518.0" width="3.2" height="5.8" rx="0.6"/><rect x="1584.7" y="516.3" width="3.2" height="5.8" rx="0.6"/><rect x="1611.7" y="513.4" width="3.2" height="5.8" rx="0.6"/><rect x="1593.9" y="523.7" width="3.2" height="5.8" rx="0.6"/><rect x="1601.3" y="520.9" width="3.2" height="5.8" rx="0.6"/><rect x="1602.5" y="523.7" width="3.2" height="5.8" rx="0.6"/><rect x="1603.6" y="526.1" width="3.2" height="5.8" rx="0.6"/><rect x="1608.8" y="520.9" width="3.2" height="5.8" rx="0.6"/><rect x="1613.1" y="520.9" width="3.2" height="5.8" rx="0.6"/><rect x="1611.1" y="528.4" width="3.2" height="5.8" rx="0.6"/><rect x="1612.6" y="533.0" width="3.2" height="5.8" rx="0.6"/><rect x="1596.2" y="536.4" width="3.2" height="5.8" rx="0.6"/><rect x="1600.8" y="539.3" width="3.2" height="5.8" rx="0.6"/><rect x="1605.7" y="536.4" width="3.2" height="5.8" rx="0.6"/><rect x="1605.0" y="540.4" width="3.2" height="5.8" rx="0.6"/><rect x="1607.3" y="539.3" width="3.2" height="5.8" rx="0.6"/><rect x="1609.2" y="541.6" width="3.2" height="5.8" rx="0.6"/><rect x="1602.8" y="549.1" width="3.2" height="5.8" rx="0.6"/><rect x="1605.7" y="551.4" width="3.2" height="5.8" rx="0.6"/><rect x="1614.6" y="551.9" width="3.2" height="5.8" rx="0.6"/><rect x="1593.3" y="552.9" width="3.2" height="5.8" rx="0.6"/><rect x="1599.0" y="555.4" width="3.2" height="5.8" rx="0.6"/><rect x="1600.8" y="557.7" width="3.2" height="5.8" rx="0.6"/><rect x="1602.3" y="560.0" width="3.2" height="5.8" rx="0.6"/><rect x="1608.5" y="557.7" width="3.2" height="5.8" rx="0.6"/><rect x="1590.4" y="560.6" width="3.2" height="5.8" rx="0.6"/><rect x="1606.5" y="561.2" width="3.2" height="5.8" rx="0.6"/><rect x="1606.9" y="564.0" width="3.2" height="5.8" rx="0.6"/><rect x="1604.8" y="565.8" width="3.2" height="5.8" rx="0.6"/><rect x="1603.4" y="568.1" width="3.2" height="5.8" rx="0.6"/><rect x="1567.7" y="573.2" width="3.2" height="5.8" rx="0.6"/><rect x="1606.9" y="580.7" width="3.2" height="5.8" rx="0.6"/><rect x="1596.2" y="581.9" width="3.2" height="5.8" rx="0.6"/><rect x="1585.8" y="583.6" width="3.2" height="5.8" rx="0.6"/><rect x="1604.6" y="592.4" width="3.2" height="5.8" rx="0.6"/><rect x="1605.0" y="599.4" width="3.2" height="5.8" rx="0.6"/><rect x="1606.2" y="605.7" width="3.2" height="5.8" rx="0.6"/><rect x="1580.8" y="609.9" width="3.2" height="5.8" rx="0.6"/><rect x="1581.6" y="616.5" width="3.2" height="5.8" rx="0.6"/><rect x="1582.2" y="619.8" width="3.2" height="5.8" rx="0.6"/><rect x="1596.6" y="615.6" width="3.2" height="5.8" rx="0.6"/><rect x="1596.0" y="622.3" width="3.2" height="5.8" rx="0.6"/><rect x="1608.4" y="617.5" width="3.2" height="5.8" rx="0.6"/><rect x="1610.7" y="620.3" width="3.2" height="5.8" rx="0.6"/><rect x="1586.6" y="634.9" width="3.2" height="5.8" rx="0.6"/><rect x="1608.4" y="632.4" width="3.2" height="5.8" rx="0.6"/><rect x="1601.4" y="640.0" width="3.2" height="5.8" rx="0.6"/><rect x="1603.0" y="640.9" width="3.2" height="5.8" rx="0.6"/><rect x="1596.0" y="654.8" width="3.2" height="5.8" rx="0.6"/><rect x="1597.6" y="656.5" width="3.2" height="5.8" rx="0.6"/><rect x="1607.4" y="659.9" width="3.2" height="5.8" rx="0.6"/><rect x="1609.7" y="663.4" width="3.2" height="5.8" rx="0.6"/><rect x="1595.7" y="669.1" width="3.2" height="5.8" rx="0.6"/><rect x="1601.2" y="668.1" width="3.2" height="5.8" rx="0.6"/><rect x="1608.8" y="674.4" width="3.2" height="5.8" rx="0.6"/><rect x="1578.9" y="677.4" width="3.2" height="5.8" rx="0.6"/><rect x="1629.4" y="248.1" width="3.2" height="5.8" rx="0.6"/><rect x="1641.4" y="268.6" width="3.2" height="5.8" rx="0.6"/><rect x="1625.9" y="247.1" width="3.2" height="5.8" rx="0.6"/><rect x="1628.4" y="250.1" width="3.2" height="5.8" rx="0.6"/><rect x="1623.4" y="253.6" width="3.2" height="5.8" rx="0.6"/><rect x="1631.4" y="244.1" width="3.2" height="5.8" rx="0.6"/><rect x="1634.4" y="246.1" width="3.2" height="5.8" rx="0.6"/><rect x="1615.6" y="418.1" width="3.2" height="5.8" rx="0.6"/><rect x="1615.6" y="423.1" width="3.2" height="5.8" rx="0.6"/><rect x="1615.6" y="428.1" width="3.2" height="5.8" rx="0.6"/><rect x="1615.6" y="433.1" width="3.2" height="5.8" rx="0.6"/><rect x="1615.6" y="438.1" width="3.2" height="5.8" rx="0.6"/><rect x="1615.6" y="443.1" width="3.2" height="5.8" rx="0.6"/><rect x="1615.6" y="448.1" width="3.2" height="5.8" rx="0.6"/><rect x="1615.6" y="453.1" width="3.2" height="5.8" rx="0.6"/><rect x="1615.6" y="458.1" width="3.2" height="5.8" rx="0.6"/><rect x="1615.6" y="463.1" width="3.2" height="5.8" rx="0.6"/><rect x="1613.4" y="425.1" width="3.2" height="5.8" rx="0.6"/><rect x="1613.4" y="430.1" width="3.2" height="5.8" rx="0.6"/><rect x="1612.9" y="444.1" width="3.2" height="5.8" rx="0.6"/><rect x="1612.9" y="450.1" width="3.2" height="5.8" rx="0.6"/><rect x="1612.4" y="456.1" width="3.2" height="5.8" rx="0.6"/><rect x="1612.4" y="462.1" width="3.2" height="5.8" rx="0.6"/><rect x="1610.4" y="443.1" width="3.2" height="5.8" rx="0.6"/><rect x="1610.9" y="449.1" width="3.2" height="5.8" rx="0.6"/><rect x="1610.4" y="457.1" width="3.2" height="5.8" rx="0.6"/><rect x="1611.4" y="467.1" width="3.2" height="5.8" rx="0.6"/><rect x="1614.4" y="470.1" width="3.2" height="5.8" rx="0.6"/><rect x="1621.4" y="296.9" width="3.2" height="5.8" rx="0.6"/><rect x="1625.6" y="296.9" width="3.2" height="5.8" rx="0.6"/><rect x="1630.2" y="295.6" width="3.2" height="5.8" rx="0.6"/><rect x="1639.2" y="299.2" width="3.2" height="5.8" rx="0.6"/><rect x="1626.0" y="301.1" width="3.2" height="5.8" rx="0.6"/><rect x="1626.5" y="304.3" width="3.2" height="5.8" rx="0.6"/><rect x="1626.7" y="308.4" width="3.2" height="5.8" rx="0.6"/><rect x="1631.8" y="303.4" width="3.2" height="5.8" rx="0.6"/><rect x="1634.8" y="308.0" width="3.2" height="5.8" rx="0.6"/><rect x="1622.6" y="306.6" width="3.2" height="5.8" rx="0.6"/><rect x="1620.3" y="308.4" width="3.2" height="5.8" rx="0.6"/><rect x="1620.3" y="314.4" width="3.2" height="5.8" rx="0.6"/><rect x="1622.6" y="311.2" width="3.2" height="5.8" rx="0.6"/><rect x="1624.2" y="314.0" width="3.2" height="5.8" rx="0.6"/><rect x="1626.3" y="313.5" width="3.2" height="5.8" rx="0.6"/><rect x="1628.8" y="313.5" width="3.2" height="5.8" rx="0.6"/><rect x="1632.9" y="315.3" width="3.2" height="5.8" rx="0.6"/><rect x="1635.3" y="316.7" width="3.2" height="5.8" rx="0.6"/><rect x="1639.2" y="315.3" width="3.2" height="5.8" rx="0.6"/><rect x="1630.4" y="322.3" width="3.2" height="5.8" rx="0.6"/><rect x="1625.1" y="320.0" width="3.2" height="5.8" rx="0.6"/><rect x="1622.4" y="320.9" width="3.2" height="5.8" rx="0.6"/><rect x="1620.1" y="322.7" width="3.2" height="5.8" rx="0.6"/><rect x="1623.7" y="323.6" width="3.2" height="5.8" rx="0.6"/><rect x="1621.0" y="326.4" width="3.2" height="5.8" rx="0.6"/><rect x="1624.2" y="325.5" width="3.2" height="5.8" rx="0.6"/><rect x="1617.3" y="330.1" width="3.2" height="5.8" rx="0.6"/><rect x="1621.9" y="330.1" width="3.2" height="5.8" rx="0.6"/><rect x="1617.3" y="333.3" width="3.2" height="5.8" rx="0.6"/><rect x="1621.0" y="334.2" width="3.2" height="5.8" rx="0.6"/><rect x="1632.5" y="331.9" width="3.2" height="5.8" rx="0.6"/><rect x="1619.4" y="336.6" width="3.2" height="5.8" rx="0.6"/><rect x="1623.4" y="336.6" width="3.2" height="5.8" rx="0.6"/><rect x="1627.4" y="337.1" width="3.2" height="5.8" rx="0.6"/><rect x="1625.4" y="339.1" width="3.2" height="5.8" rx="0.6"/><rect x="1621.9" y="342.6" width="3.2" height="5.8" rx="0.6"/><rect x="1625.9" y="343.6" width="3.2" height="5.8" rx="0.6"/><rect x="1626.9" y="346.6" width="3.2" height="5.8" rx="0.6"/><rect x="1623.4" y="347.6" width="3.2" height="5.8" rx="0.6"/><rect x="1621.9" y="350.6" width="3.2" height="5.8" rx="0.6"/><rect x="1617.6" y="348.1" width="3.2" height="5.8" rx="0.6"/><rect x="1617.6" y="353.1" width="3.2" height="5.8" rx="0.6"/><rect x="1617.6" y="358.1" width="3.2" height="5.8" rx="0.6"/><rect x="1617.6" y="363.1" width="3.2" height="5.8" rx="0.6"/><rect x="1617.8" y="368.1" width="3.2" height="5.8" rx="0.6"/><rect x="1617.8" y="373.1" width="3.2" height="5.8" rx="0.6"/><rect x="1620.0" y="355.1" width="3.2" height="5.8" rx="0.6"/><rect x="1620.0" y="361.1" width="3.2" height="5.8" rx="0.6"/><rect x="1620.4" y="366.6" width="3.2" height="5.8" rx="0.6"/><rect x="1621.9" y="371.1" width="3.2" height="5.8" rx="0.6"/><rect x="1620.9" y="374.6" width="3.2" height="5.8" rx="0.6"/><rect x="1629.7" y="357.2" width="3.2" height="5.8" rx="0.6"/><rect x="1632.0" y="359.0" width="3.2" height="5.8" rx="0.6"/><rect x="1628.4" y="365.0" width="3.2" height="5.8" rx="0.6"/><rect x="1635.5" y="365.5" width="3.2" height="5.8" rx="0.6"/><rect x="1636.2" y="341.1" width="3.2" height="5.8" rx="0.6"/><rect x="1639.4" y="340.6" width="3.2" height="5.8" rx="0.6"/><rect x="1618.4" y="376.6" width="3.2" height="5.8" rx="0.6"/><rect x="1621.9" y="376.6" width="3.2" height="5.8" rx="0.6"/><rect x="1618.4" y="381.1" width="3.2" height="5.8" rx="0.6"/><rect x="1621.9" y="380.6" width="3.2" height="5.8" rx="0.6"/><rect x="1625.6" y="382.9" width="3.2" height="5.8" rx="0.6"/><rect x="1629.7" y="384.3" width="3.2" height="5.8" rx="0.6"/><rect x="1629.5" y="390.3" width="3.2" height="5.8" rx="0.6"/><rect x="1618.4" y="386.1" width="3.2" height="5.8" rx="0.6"/><rect x="1620.9" y="386.1" width="3.2" height="5.8" rx="0.6"/><rect x="1618.4" y="391.1" width="3.2" height="5.8" rx="0.6"/><rect x="1620.4" y="392.1" width="3.2" height="5.8" rx="0.6"/><rect x="1623.7" y="395.8" width="3.2" height="5.8" rx="0.6"/><rect x="1618.4" y="396.1" width="3.2" height="5.8" rx="0.6"/><rect x="1620.9" y="398.6" width="3.2" height="5.8" rx="0.6"/><rect x="1618.9" y="401.6" width="3.2" height="5.8" rx="0.6"/><rect x="1630.9" y="403.2" width="3.2" height="5.8" rx="0.6"/><rect x="1617.4" y="405.1" width="3.2" height="5.8" rx="0.6"/><rect x="1617.4" y="409.1" width="3.2" height="5.8" rx="0.6"/><rect x="1617.3" y="413.1" width="3.2" height="5.8" rx="0.6"/><rect x="1216.9" y="603.0" width="3.2" height="5.8" rx="0.6"/></g>
</svg>
</body></html>
